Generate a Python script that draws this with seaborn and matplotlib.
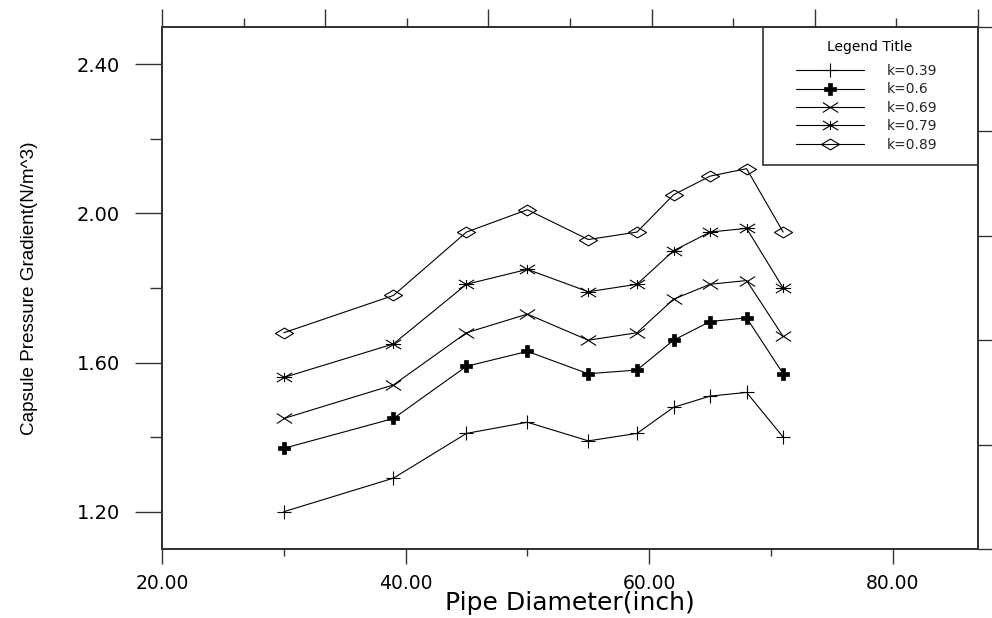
import matplotlib
matplotlib.use("Agg")
import matplotlib.pyplot as plt
import numpy as np
import pandas as pd
import seaborn as sns
from matplotlib.path import Path
from matplotlib.patches import Rectangle
from matplotlib.ticker import FixedLocator, NullFormatter, FormatStrFormatter

# ---------------- data ----------------
diameters = [30, 39, 45, 50, 55, 59, 62, 65, 68, 71]
k_labels = ["k=0.39", "k=0.6", "k=0.69", "k=0.79", "k=0.89"]
g_k039 = [1.20, 1.29, 1.41, 1.44, 1.39, 1.41, 1.48, 1.51, 1.52, 1.40]
g_k060 = [1.37, 1.45, 1.59, 1.63, 1.57, 1.58, 1.66, 1.71, 1.72, 1.57]
g_k069 = [1.45, 1.54, 1.68, 1.73, 1.66, 1.68, 1.77, 1.81, 1.82, 1.67]
g_k079 = [1.56, 1.65, 1.81, 1.85, 1.79, 1.81, 1.90, 1.95, 1.96, 1.80]
g_k089 = [1.68, 1.78, 1.95, 2.01, 1.93, 1.95, 2.05, 2.10, 2.12, 1.95]
series = [g_k039, g_k060, g_k069, g_k079, g_k089]

x_major = [20, 40, 60, 80]
x_minor = [30, 50, 70]
y_major = [1.20, 1.60, 2.00, 2.40]
y_minor = [1.40, 1.80, 2.20]

df = pd.DataFrame({
    "D": diameters * len(k_labels),
    "G": [v for s in series for v in s],
    "k": [lab for lab in k_labels for _ in diameters],
})

# ---------------- markers ----------------
M, L = Path.MOVETO, Path.LINETO
x_wide = Path([(-1, -0.65), (1, 0.65), (-1, 0.65), (1, -0.65)], [M, L, M, L])
aster = Path([(-1, -0.6), (1, 0.6), (-1, 0.6), (1, -0.6), (-1, 0), (1, 0), (0, -0.6), (0, 0.6)],
             [M, L, M, L, M, L, M, L])
diamond = Path([(-1, 0), (0, 0.6), (1, 0), (0, -0.6), (-1, 0)], [M, L, L, L, Path.CLOSEPOLY])

styles = {
    "k=0.39": dict(marker="+", markersize=10, markeredgewidth=0.8),
    "k=0.6": dict(marker="P", markersize=9, markeredgewidth=0.5, markerfacecolor="black"),
    "k=0.69": dict(marker=x_wide, markersize=11, markeredgewidth=0.8),
    "k=0.79": dict(marker=aster, markersize=11, markeredgewidth=0.8),
    "k=0.89": dict(marker=diamond, markersize=13, markeredgewidth=0.8, markerfacecolor="none"),
}

sns.set_theme(style="ticks")
plt.rcParams["font.family"] = ["DejaVu Sans"]

W, H = 992, 618
fig = plt.figure(figsize=(W / 100, H / 100), dpi=100)
ax = fig.add_axes([162 / W, 69 / H, 816 / W, 522 / H])

for lab in k_labels:
    sns.lineplot(data=df[df["k"] == lab], x="D", y="G", ax=ax, color="black",
                 linewidth=0.8, label=lab, markeredgecolor="black", **styles[lab])

ax.set_xlim(20, 87)
ax.set_ylim(1.1, 2.5)
ax.xaxis.set_major_locator(FixedLocator(x_major))
ax.xaxis.set_minor_locator(FixedLocator(x_minor))
ax.yaxis.set_major_locator(FixedLocator(y_major))
ax.yaxis.set_minor_locator(FixedLocator(y_minor))
ax.xaxis.set_major_formatter(FormatStrFormatter("%.2f"))
ax.yaxis.set_major_formatter(FormatStrFormatter("%.2f"))

spine_c = "#333333"
for s in ax.spines.values():
    s.set_color(spine_c)
    s.set_linewidth(1.2)

ax.tick_params(axis="x", which="major", direction="out", length=10.8, width=1.0,
               color=spine_c, pad=7, labelsize=13.5, labelcolor="black")
ax.tick_params(axis="x", which="minor", direction="out", length=5, width=1.0, color=spine_c)
ax.tick_params(axis="y", which="major", direction="out", length=19.4, width=1.0,
               color=spine_c, pad=11, labelsize=14, labelcolor="black")
ax.tick_params(axis="y", which="minor", direction="out", length=9, width=1.0, color=spine_c)

ax.set_xlabel("Pipe Diameter(inch)", fontsize=18, color="black", va="center")
ax.xaxis.set_label_coords(0.5, (549 - 603) / 522)
ax.set_ylabel("Capsule Pressure Gradient(N/m^3)", fontsize=13.6, color="black",
              family=["Liberation Sans", "DejaVu Sans"], va="center")
ax.yaxis.set_label_coords((30 - 162) / 816, 0.5)

# top axis (unlabelled, 10 divisions)
axt = ax.twiny()
axt.set_xlim(0, 10)
axt.xaxis.set_major_locator(FixedLocator([0, 2, 4, 6, 8, 10]))
axt.xaxis.set_minor_locator(FixedLocator([1, 3, 5, 7, 9]))
axt.xaxis.set_major_formatter(NullFormatter())
axt.tick_params(axis="x", which="major", direction="out", length=13, width=1.0, color=spine_c)
axt.tick_params(axis="x", which="minor", direction="out", length=6.5, width=1.0, color=spine_c)
axt.yaxis.set_visible(False)

# right axis (unlabelled, 5 divisions)
axr = ax.twinx()
axr.set_ylim(0, 5)
axr.yaxis.set_major_locator(FixedLocator([0, 1, 2, 3, 4, 5]))
axr.yaxis.set_minor_locator(FixedLocator([]))
axr.yaxis.set_major_formatter(NullFormatter())
axr.tick_params(axis="y", which="major", direction="out", length=11, width=1.0, color=spine_c)
for a in (axt, axr):
    for s in a.spines.values():
        s.set_color(spine_c)
        s.set_linewidth(1.2)

# legend: box, title and entries
box = Rectangle((763 / W, 1 - 165 / H), 215 / W, 138 / H, transform=fig.transFigure,
                facecolor="white", edgecolor=spine_c, linewidth=1.2, clip_on=False, zorder=9)
ax.add_patch(box)
ax.text(870 / W, 1 - 47 / H, "Legend Title", transform=fig.transFigure, ha="center",
        va="center", fontsize=10, color="black", zorder=11)
leg = ax.legend(loc="upper left", bbox_to_anchor=(796 / W, 1 - 64 / H),
                bbox_transform=fig.transFigure, borderaxespad=0, borderpad=0,
                fontsize=10, handlelength=4.9, handletextpad=1.65, labelspacing=0.32,
                frameon=False)
leg.set_zorder(10)

fig.savefig("out.png", dpi=100)
